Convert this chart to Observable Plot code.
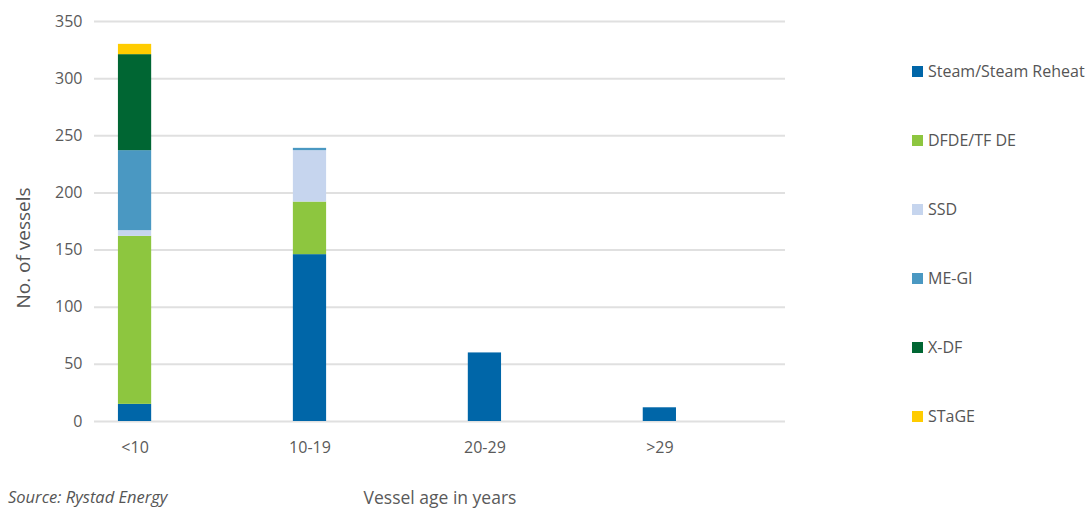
<!DOCTYPE html>
<html>
<head>
<meta charset="utf-8">
<script src="https://cdn.jsdelivr.net/npm/d3@7"></script>
<script src="https://cdn.jsdelivr.net/npm/@observablehq/plot@0.6"></script>
<style>
  html, body { margin: 0; padding: 0; background: #fff; }
  #wrap { position: relative; width: 1091px; height: 510px; font-family: "Open Sans", sans-serif; }
  #legend { position: absolute; left: 912px; top: 60px; }
  .item { display: flex; align-items: center; height: 22px; margin-bottom: 47px; font-size: 16px; color: #555; }
  .sw { width: 11px; height: 11px; margin-right: 5px; }
  #source { position: absolute; left: 8px; top: 485px; font-size: 16.5px; font-style: italic; color: #555; }
  #ylabel { position: absolute; left: 23px; top: 248px; transform: translate(-50%, -50%) rotate(-90deg); white-space: nowrap; font-size: 19px; color: #555; }
</style>
</head>
<body>
<div id="wrap">
  <div id="chart"></div>
  <div id="legend"></div>
  <div id="ylabel">No. of vessels</div>
  <div id="source">Source: Rystad Energy</div>
</div>
<script>
const ages = ["<10", "10-19", "20-29", ">29"];
const types = ["Steam/Steam Reheat", "DFDE/TF DE", "SSD", "ME-GI", "X-DF", "STaGE"];
const colors = ["#0066a8", "#8dc63f", "#c6d5ee", "#4a98c2", "#006633", "#ffcc00"];
const steam = [15, 146, 60, 12];
const dfde = [147, 46, 0, 0];
const ssd = [5, 45, 0, 0];
const megi = [70, 2, 0, 0];
const xdf = [84, 0, 0, 0];
const stage = [9, 0, 0, 0];
const yTicks = [0, 50, 100, 150, 200, 250, 300, 350];

const series = [steam, dfde, ssd, megi, xdf, stage];
const rows = [];
series.forEach((vals, i) => {
  vals.forEach((v, j) => rows.push({age: ages[j], type: types[i], value: v}));
});

const chart = Plot.plot({
  width: 1091,
  height: 510,
  marginLeft: 94,
  marginRight: 306,
  marginTop: 21,
  marginBottom: 89,
  style: {fontFamily: "Open Sans", fontSize: "16px", color: "#5a5a5a", background: "transparent"},
  x: {
    domain: ages, paddingInner: 0.81, paddingOuter: 0.38, align: 0.18, round: false,
    tickSize: 0, tickPadding: 20, label: "Vessel age in years", labelAnchor: "center", labelOffset: 82
  },
  y: {
    domain: [0, 350], ticks: yTicks, tickSize: 0, tickPadding: 12, label: null
  },
  color: {domain: types, range: colors},
  marks: [
    Plot.ruleY(yTicks, {stroke: "#e0e0e0", strokeWidth: 2}),
    Plot.barY(rows, {x: "age", y: "value", fill: "type", inset: 0})
  ]
});
chart.querySelectorAll("text").forEach(t => {
  if (t.textContent.includes("Vessel age")) t.setAttribute("font-size", "17.5px"), t.style.fontSize = "17.5px";
});
document.getElementById("chart").appendChild(chart);

const legend = document.getElementById("legend");
types.forEach((t, i) => {
  const d = document.createElement("div");
  d.className = "item";
  d.innerHTML = `<span class="sw" style="background:${colors[i]}"></span><span>${t}</span>`;
  legend.appendChild(d);
});
</script>
</body>
</html>
